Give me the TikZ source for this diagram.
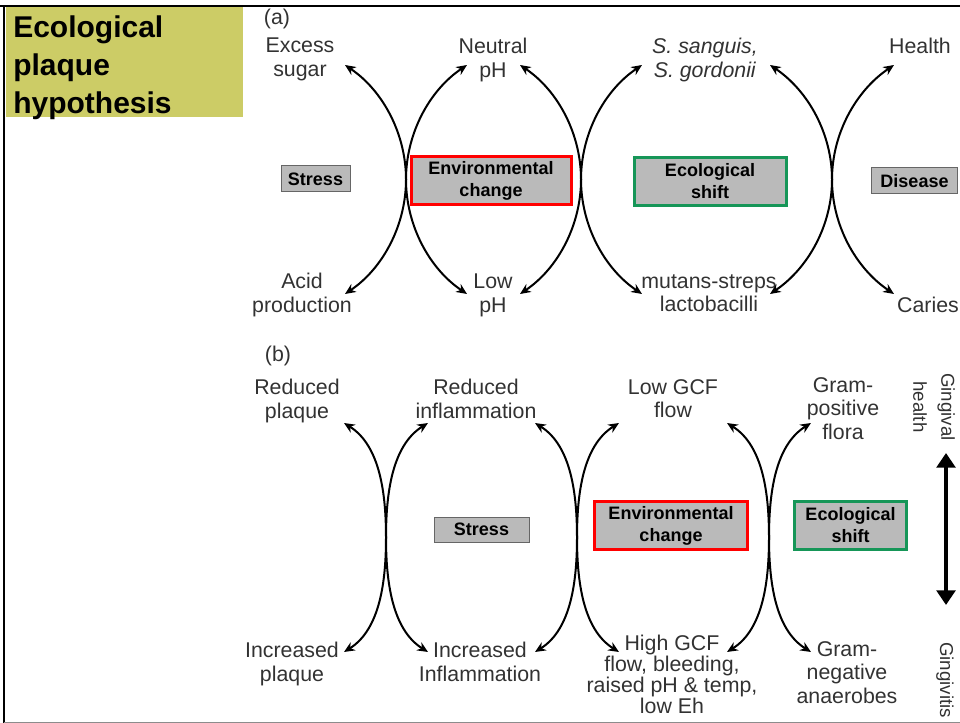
\documentclass[tikz,border=0pt]{standalone}
\usepackage{fontspec}
\setmainfont{Liberation Sans}
\usetikzlibrary{arrows.meta}
\definecolor{titlebg}{RGB}{204,204,102}
\definecolor{shiftgreen}{RGB}{22,150,88}
\definecolor{labelgray}{RGB}{50,50,50}
\tikzset{>={Stealth[length=8pt,width=7pt,inset=2.5pt]}}
\tikzstyle{every node}=[align=center]
\tikzset{
  lbl/.style={text=labelgray, inner sep=0pt, anchor=north, font=\fontsize{16}{17.6}\selectfont},
  side/.style={text=labelgray, inner sep=0pt, rotate=-90, font=\fontsize{14}{21}\selectfont},
  stage/.style={draw=black!60, fill=black!27, line width=0.75pt, inner sep=0pt, font=\bfseries\fontsize{13.5}{16.5}\selectfont},
  redframe/.style={draw=red, line width=2.25pt},
  greenframe/.style={draw=shiftgreen, line width=2.25pt},
  swing/.style={<->, line width=1.5pt},
  titletext/.style={align=left, inner sep=0pt, font=\bfseries\fontsize{22.5}{28.5}\selectfont}
}

\begin{document}
\begin{tikzpicture}[x=0.75pt,y=-0.75pt]
\useasboundingbox (0,0) rectangle (960,723);
\clip (0,0) rectangle (960,723);

% slide frame and title
\draw[line width=1.5pt] (0,6) -- (960,6);
\draw[line width=1.5pt] (4,6) -- (4,723);
\draw[black!45] (4,722) -- (960,722);
\fill[titlebg] (6,7) rectangle (243,117);
\node[titletext, anchor=north west] (title) at (13,15) {Ecological\\plaque\\hypothesis};

% (a) caries
\node[lbl] (pa) at (277,9) {(a)};
\node[lbl] (excess) at (300,38) {Excess\\sugar};
\node[lbl] (neutral) at (493,38) {Neutral\\pH};
\node[lbl] (sanguis) at (705,38) {\textit{S. sanguis,}\\\textit{S. gordonii}};
\node[lbl] (health) at (920,38) {Health};
\node[lbl] (acid) at (302,273) {Acid\\production};
\node[lbl] (lowph) at (493,274) {Low\\pH};
\node[lbl] (mutans) at (709,274) {mutans-streps\\lactobacilli};
\node[lbl] (caries) at (928,297) {Caries};

\node[stage, minimum width=51.75pt, minimum height=19.5pt] (stressa) at (315.5,179) {Stress};
\node[stage, redframe, minimum width=120pt, minimum height=36pt] (enva) at (491,181) {Environmental\\change};
\node[stage, greenframe, minimum width=114pt, minimum height=36pt] (ecoa) at (710,181.5) {Ecological\\shift};
\node[stage, minimum width=64pt, minimum height=19.5pt] (disease) at (914.5,181) {Disease};

% (b) gingivitis
\node[lbl] (pb) at (278,346) {(b)};
\node[lbl] (redplaque) at (297,379) {Reduced\\plaque};
\node[lbl] (redinfl) at (476,379) {Reduced\\inflammation};
\node[lbl] (lowgcf) at (673,379) {Low GCF\\flow};
\node[lbl] (grampos) at (843,377) {Gram-\\positive\\flora};
\node[lbl] (incplaque) at (292,642) {Increased\\plaque};
\node[lbl] (incinfl) at (480,642) {Increased\\Inflammation};
\node[lbl, font=\fontsize{16}{15.75}\selectfont] (highgcf) at (672,635) {High GCF\\flow, bleeding,\\raised pH \& temp,\\low Eh};
\node[lbl] (gramneg) at (847,641) {Gram-\\negative\\anaerobes};
\node[side] (gumhealth) at (934,407) {Gingival\\health};
\node[side] (gingivitis) at (945,680) {Gingivitis};

\node[stage, minimum width=71.25pt, minimum height=18.75pt] (stressb) at (481.5,529.5) {Stress};
\node[stage, redframe, minimum width=114.75pt, minimum height=36pt] (envb) at (671,525.5) {Environmental\\change};
\node[stage, greenframe, minimum width=84pt, minimum height=36pt] (ecob) at (850.5,525.5) {Ecological\\shift};

% crossing arcs between the stages
\foreach \p/\c/\w/\t/\b/\a in {a1/406/61/65/294/34, a2/581/61/65/294/34, a3/832/62/65/294/34,
                               b1/386/42/423/652/32, b2/577/42/423/652/32, b3/769/42/423/652/32}{
  \coordinate (\p tl) at (\c-\w,\t);
  \coordinate (\p tr) at (\c+\w,\t);
  \coordinate (\p bl) at (\c-\w,\b);
  \coordinate (\p br) at (\c+\w,\b);
  \coordinate (\p x) at (\c,{(\t+\b)/2});
  \draw[swing] (\p tl) to[out=-\a,in=90,looseness=0.9] (\p x) to[out=-90,in=\a,looseness=0.9] (\p bl);
  \draw[swing] (\p tr) to[out=180+\a,in=90,looseness=0.9] (\p x) to[out=-90,in=180-\a,looseness=0.9] (\p br);
}

\coordinate (gumtop) at (946,453);
\coordinate (gumbottom) at (946,605);
\draw[{Triangle[length=11pt,width=14pt]}-{Triangle[length=11pt,width=14pt]}, line width=3pt] (gumtop) -- (gumbottom);
\end{tikzpicture}
\end{document}
